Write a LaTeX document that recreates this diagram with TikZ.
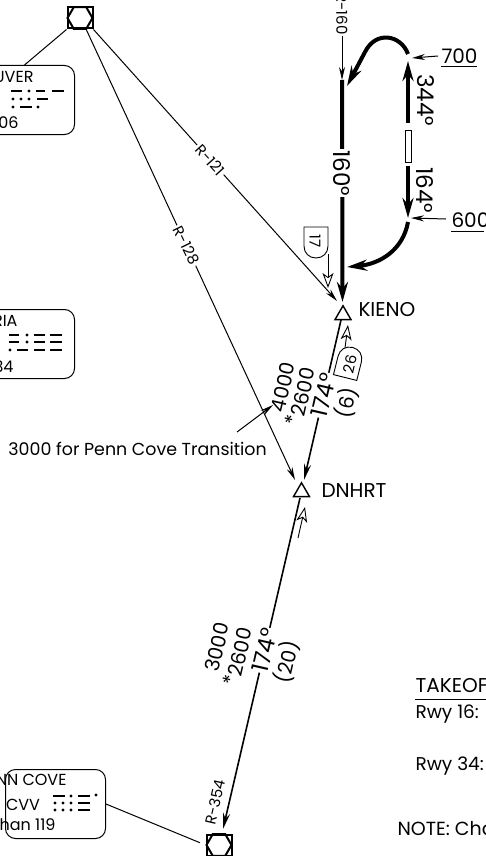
\documentclass[tikz,border=0pt]{standalone}
\usepackage{fontspec}
\setmainfont{Poppins}
\usetikzlibrary{arrows.meta,shapes.geometric}
\tikzset{
  navtext/.style={font=\fontsize{16}{16}\selectfont,inner sep=1pt},
  radialtext/.style={font=\fontsize{15}{15}\selectfont},
  vorbox/.style={draw,line width=2pt,minimum width=25pt,minimum height=21pt,inner sep=0pt},
  vorhex/.style={draw,line width=2pt,regular polygon,regular polygon sides=6,minimum size=25pt,inner sep=0pt},
  fixtri/.style={draw,line width=1.4pt,regular polygon,regular polygon sides=3,minimum size=18.5pt,inner sep=0pt},
  navbox/.style={draw,line width=1pt,rounded corners=10pt,minimum width=100pt,minimum height=69pt,anchor=north east},
  morsedash/.style={line width=2.8pt},
  dmetab/.style={draw,line width=0.9pt,fill=white},
}
\newcommand{\dmeshape}{(-12,-16) -- (12,-16) -- (12,3) .. controls (12,10) and (7,15) .. (0,15) .. controls (-7,15) and (-12,10) .. (-12,3) -- cycle}
\begin{document}
\begin{tikzpicture}[x=1pt,y=-1pt,line width=1pt]
    \clip (0,0) rectangle (486,856);

    % navaids and fixes
    \node[vorbox] (vorn) at (80,18) {};
    \node[vorhex] at (80,18) {};
    \node[vorbox] (vors) at (219,845) {};
    \node[vorhex] at (219,845) {};
    \node[fixtri] (kieno) at (343,315) {};
    \node[fixtri] (dnhrt) at (301.5,492) {};
    \node[navbox] (vancouver) at (75,65) {};
    \node[navbox] (victoria) at (75,309) {};
    \node[navbox] (penncove) at (106,769) {};

    \begin{scope}[every node/.style={navtext}]
      \node[anchor=east] (vantop) at (35,77) {UVER};
      \node[anchor=east] (vanbot) at (20,123) {06};
      \node[anchor=east] (victop) at (19,321) {RIA};
      \node[anchor=east] (vicbot) at (15,367) {34};
      \node[anchor=east] (pentop) at (68,780) {NN COVE};
      \node (pencvv) at (23,805) {CVV};
      \node[anchor=east] (penbot) at (57,825) {han 119};
      \node[anchor=west,font=\fontsize{20}{20}\selectfont] (kienolab) at (357,310) {KIENO};
      \node[anchor=west,font=\fontsize{20}{20}\selectfont] (dnhrtlab) at (320,491) {DNHRT};
      \node[anchor=west,font=\fontsize{17.4}{17.4}\selectfont] (transit) at (7,449) {3000 for Penn Cove Transition};
      \node[anchor=west,font=\fontsize{20}{20}\selectfont] (lab700) at (440,56) {700};
      \node[anchor=west,font=\fontsize{20}{20}\selectfont] (lab600) at (450,220) {600};
      \node[anchor=west,font=\fontsize{20}{20}\selectfont] (takeoff) at (414,686) {TAKEOF};
      \node[anchor=west,font=\fontsize{18.5}{18.5}\selectfont] (rwy16) at (414,714) {Rwy 16:};
      \node[anchor=west,font=\fontsize{18.5}{18.5}\selectfont] (rwy34) at (414,766) {Rwy 34:};
      \node[anchor=west,font=\fontsize{19}{19}\selectfont] (note) at (396,829) {NOTE: Cha};
    \end{scope}

    % morse idents
    \foreach \a/\b/\y in {11/22/91,36/45/91,52/64/91,37/48/99,20/32/107,
        9/19/335,34/45/335,50/62/335,9/19/342,34/45/342,50/62/342,17/28/350,34/45/350,50/62/350,
        53/65/796,78/90/796,78/90/803,78/90/810}
      \draw[morsedash] (\a,\y) -- (\b,\y);
    \foreach \a/\y in {29/91,13/99,21/99,29/99,13/107,38/107,
        27/335,27/342,10/350,
        71/796,96/795,55/803,63/803,71/803,55/810,63/810,71/810}
      \fill (\a,\y) circle (1.7);

    \draw (441,67) -- (477,67);
    \draw (451,231) -- (484,231);
    \draw (415,699) -- (486,699);

    \coordinate (start128) at (86,29);
    \coordinate (tip121) at (337,301);
    \coordinate (tip128) at (295,480);
    \coordinate (tip160) at (342,80);
    \coordinate (tipkieno) at (342.5,302);
    \coordinate (startleg) at (341,320);
    \coordinate (tipdnhrt) at (304,480);
    \coordinate (startlow) at (300,498);
    \coordinate (tipvor) at (223,829);
    \coordinate (legtop) at (408,61);
    \coordinate (legbot) at (408,218);
    \coordinate (starttrans) at (237,432);
    \coordinate (tiptrans) at (273,405);
    \coordinate (start700) at (438,56);
    \coordinate (tip700) at (412,58);
    \coordinate (start600) at (446,219);
    \coordinate (tip600) at (411,218);
    \coordinate (start17) at (328,254);
    \coordinate (tip17) at (328,288);
    \coordinate (start26) at (345,348);
    \coordinate (tip26) at (348,325);
    \coordinate (startdn) at (298,538);
    \coordinate (tipdn) at (305,507);

    \node[draw,line width=0.9pt,minimum width=6pt,minimum height=32pt,inner sep=0pt] (holdbar) at (408,146) {};

    \draw (vorn.south west) -- (vancouver.north);
    \draw[shorten >=6pt] (penncove.east) -- (vors.west);

    % radials and legs
    \begin{scope}[>={Stealth[black,length=13pt,width=6pt]},
        every node/.style={radialtext,fill=white,inner sep=2pt}]
      \path [->] (vorn.south east) edge[draw] node[rotate=-48,pos=0.48] (r121) {R-121} (tip121);
      \path [->] (start128) edge[draw] node[rotate=-64,pos=0.48] (r128) {R-128} (tip128);
      \node[rotate=-90,anchor=east,inner sep=1pt] (r160) at (342,36) {R-160};
      \path [->] (r160.east) edge[draw] (tip160);
      \path [->] (start700) edge[draw] (tip700);
      \path [->] (start600) edge[draw] (tip600);
      \path [->] (starttrans) edge[draw] (tiptrans);
    \end{scope}

    \begin{scope}[>={Stealth[black,length=20pt,width=11pt]},line width=4pt,
        every node/.style={navtext,fill=white,font=\fontsize{23}{23}\selectfont,inner sep=1pt}]
      \path [->] (tip160) edge[draw] node[rotate=-90,pos=0.42] (lab160) {160°} (tipkieno);
      \path [->,shorten <=7pt] (holdbar.north) edge[draw] (legtop);
      \path [->,shorten <=4pt] (holdbar.south) edge[draw] (legbot);
      \draw[->] (408,54) .. controls (401,35) and (376,30) .. (365,52) -- (347,86);
      \draw[->] (408,222) .. controls (403,250) and (380,264) .. (347,267);
    \end{scope}

    \begin{scope}[>={Stealth[black,length=16pt,width=7pt]},line width=1.6pt,
        every node/.style={navtext,fill=white,font=\fontsize{23}{23}\selectfont,inner sep=1pt}]
      \path [->] (startleg) edge[draw] node[rotate=77,pos=0.47] (crs6) {174°} (tipdnhrt);
      \path [->] (startlow) edge[draw] node[rotate=77,pos=0.46] (crs20) {174°} (tipvor);
    \end{scope}

    % altitudes and headings
    \begin{scope}[every node/.style={navtext,font=\fontsize{20}{20}\selectfont,rotate=77}]
      \node (alt4000) at (283,387) {4000};
      \node (alt2600a) at (303,392) {2600};
      \node (stara) at (292,420) {*};
      \node (dist6) at (347,403) {(6)};
      \node (alt3000) at (217,647) {3000};
      \node (alt2600b) at (240,652) {2600};
      \node (starb) at (230,680) {*};
      \node (dist20) at (287,662) {(20)};
      \node[radialtext] (r354) at (215,802) {R-354};
    \end{scope}
    \node[rotate=-90,navtext,font=\fontsize{23}{23}\selectfont] (crs344) at (426,100) {344°};
    \node[rotate=-90,navtext,font=\fontsize{23}{23}\selectfont] (crs164) at (425,190) {164°};

    % DME tabs
    \path[dmetab] [shift={(316,243)}] \dmeshape;
    \node[rotate=-90,navtext,font=\fontsize{15}{15}\selectfont] (dme17) at (315,241) {17};
    \path[dmetab] [shift={(349,362)},rotate=166] \dmeshape;
    \node[rotate=77,navtext,font=\fontsize{15}{15}\selectfont] (dme26) at (350,364) {26};
    \begin{scope}[>={Stealth[fill=white,length=15pt,width=11pt,inset=4pt]},line width=0.9pt]
      \path [->] (start17) edge[draw] (tip17);
      \path [->] (start26) edge[draw] (tip26);
      \path [->] (startdn) edge[draw] (tipdn);
    \end{scope}
  \end{tikzpicture}
\end{document}
